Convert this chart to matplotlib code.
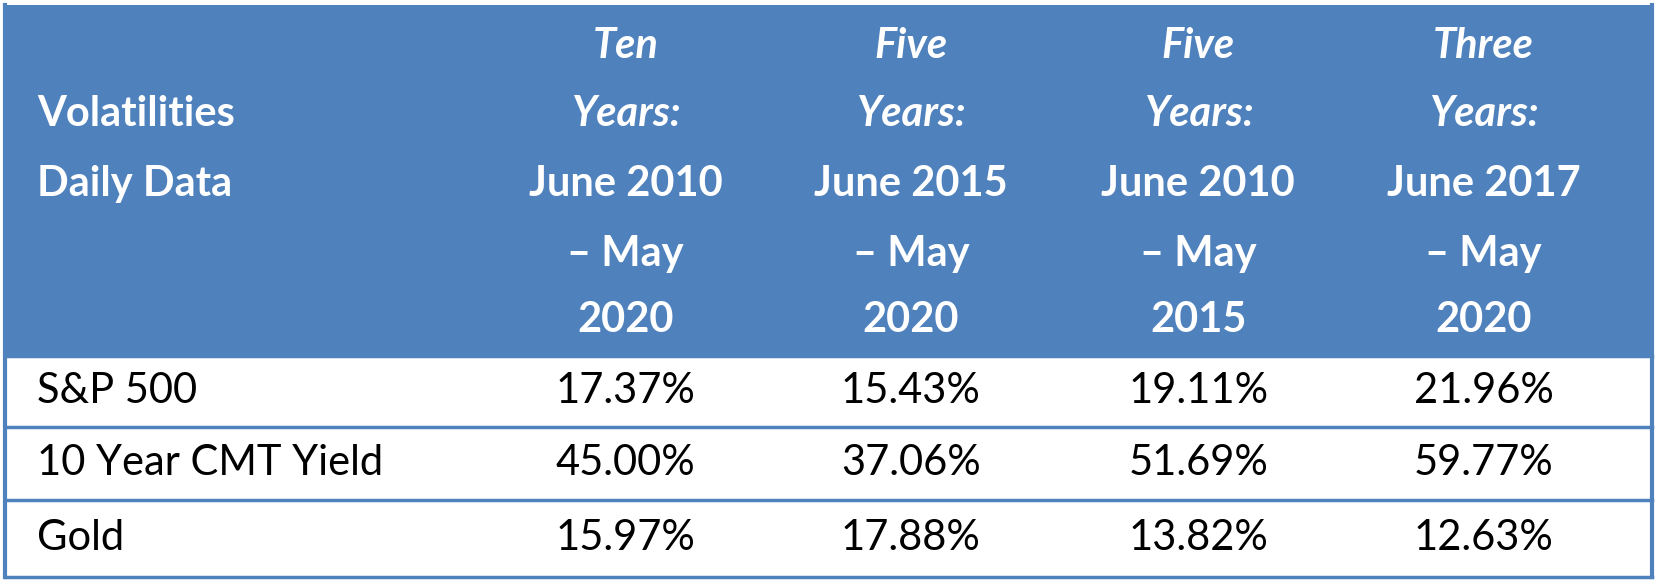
import matplotlib.pyplot as plt
from matplotlib.patches import Rectangle

# table content
corner = ["Volatilities", "Daily Data"]
periods = ["Ten", "Five", "Five", "Three"]
ranges = [["June 2010", "\u2013 May", "2020"],
          ["June 2015", "\u2013 May", "2020"],
          ["June 2010", "\u2013 May", "2015"],
          ["June 2017", "\u2013 May", "2020"]]
rows = ["S&P 500", "10 Year CMT Yield", "Gold"]
vals = [["17.37%", "15.43%", "19.11%", "21.96%"],
        ["45.00%", "37.06%", "51.69%", "59.77%"],
        ["15.97%", "17.88%", "13.82%", "12.63%"]]

BLUE = "#4F81BD"
W, H = 1568, 545
fig = plt.figure(figsize=(16.57, 5.82), dpi=100)
ax = fig.add_axes([0, 0, 1, 1])
ax.set_xlim(0, W)
ax.set_ylim(H, 0)
ax.axis("off")
plt.rcParams['font.family'] = ['Lato', 'DejaVu Sans']

left, right, top, hbot = 5, 1563, 5, 333
row_edges = [333, 400, 468, 540]
col_centers = [592, 862, 1134, 1404]
fs = 30

ax.add_patch(Rectangle((left, top), right - left, hbot - top, color=BLUE, lw=0))
for y in row_edges:
    ax.plot([left, right], [y, y], color=BLUE, lw=2.5)
ax.plot([left, left], [top, 540], color=BLUE, lw=3)
ax.plot([right, right], [top, 540], color=BLUE, lw=3)

ax.text(35, 107, corner[0], color="white", fontsize=fs, fontweight="bold", va="center")
ax.text(35, 172, corner[1], color="white", fontsize=fs, fontweight="bold", va="center")

line_y = [43, 107, 172, 238, 300]
for i, cx in enumerate(col_centers):
    ax.text(cx, line_y[0], periods[i], color="white", fontsize=fs, fontweight="bold",
            style="italic", ha="center", va="center")
    ax.text(cx, line_y[1], "Years:", color="white", fontsize=fs, fontweight="bold",
            style="italic", ha="center", va="center")
    for j, t in enumerate(ranges[i]):
        ax.text(cx, line_y[2 + j], t, color="white", fontsize=fs, fontweight="bold",
                ha="center", va="center")

for r, name in enumerate(rows):
    yc = (row_edges[r] + row_edges[r + 1]) / 2
    ax.text(35, yc, name, color="black", fontsize=fs, va="center")
    for i, cx in enumerate(col_centers):
        ax.text(cx, yc, vals[r][i], color="black", fontsize=fs, ha="center", va="center")

fig.savefig("out.png", dpi=100)
